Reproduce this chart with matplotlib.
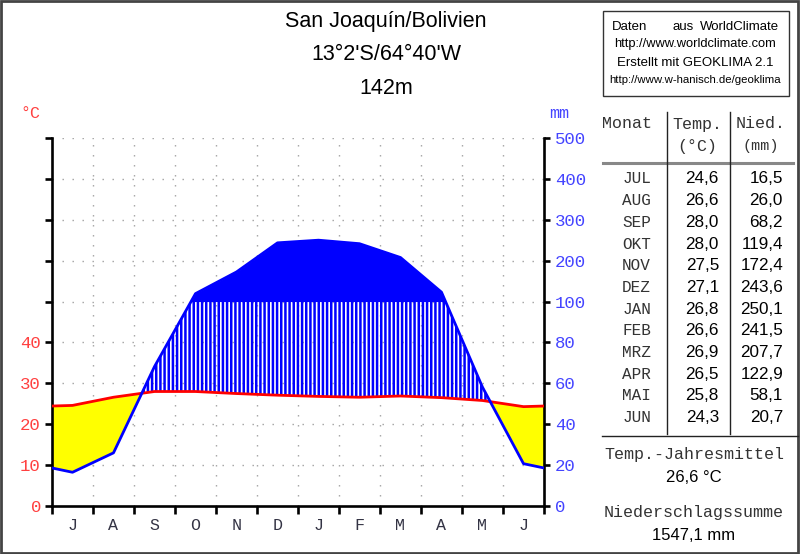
import numpy as np
import matplotlib
matplotlib.use('Agg')
import matplotlib.pyplot as plt
from matplotlib.patches import Rectangle
from matplotlib.lines import Line2D

# Klimadaten San Joaquín (Jul..Jun)
monate = ['JUL', 'AUG', 'SEP', 'OKT', 'NOV', 'DEZ', 'JAN', 'FEB', 'MRZ', 'APR', 'MAI', 'JUN']
monat_kurz = ['J', 'A', 'S', 'O', 'N', 'D', 'J', 'F', 'M', 'A', 'M', 'J']
temp = [24.6, 26.6, 28.0, 28.0, 27.5, 27.1, 26.8, 26.6, 26.9, 26.5, 25.8, 24.3]
nied = [16.5, 26.0, 68.2, 119.4, 172.4, 243.6, 250.1, 241.5, 207.7, 122.9, 58.1, 20.7]
mm_labels = ['0', '20', '40', '60', '80', '100', '200', '300', '400', '500']
t_labels = ['0', '10', '20', '30', '40', '', '', '', '', '']

MONO = 'Liberation Mono'
SANS = 'Liberation Sans'
ROT = '#ff4040'
BLAU = '#4444ff'

W, H = 800, 554
fig = plt.figure(figsize=(W / 100, H / 100), dpi=100)


def fx(x):
    return x / W


def fy(y):
    return 1 - y / H


def skala(p):
    p = np.asarray(p, dtype=float)
    return np.where(p <= 100, p / 2, 50 + (p - 100) / 10)


# Kurven bis an den Rand verlängern
t = np.array(temp)
p = skala(nied)
xe = np.concatenate([[0], np.arange(12) + 0.5, [12]])
te = np.concatenate([[(t[0] + t[-1]) / 2], t, [(t[0] + t[-1]) / 2]])
pe = np.concatenate([[(p[0] + p[-1]) / 2], p, [(p[0] + p[-1]) / 2]])
xf = np.linspace(0, 12, 2401)
tf = np.interp(xf, xe, te)
pf = np.interp(xf, xe, pe)

ax = fig.add_axes([fx(52), fy(506), (544 - 52) / W, (506 - 138) / H])
ax.set_xlim(0, 12)
ax.set_ylim(0, 90)

# Raster
for yy in range(10, 100, 10):
    ax.axhline(yy, color='#a0a0a0', lw=1, ls=(0, (1, 6.2)), zorder=0)
for xx in range(1, 12):
    ax.axvline(xx, color='#a0a0a0', lw=1, ls=(0, (1, 6.2)), zorder=0)

plt.rcParams['hatch.linewidth'] = 1.8
plt.rcParams['hatch.color'] = 'blue'
ax.fill_between(xf, pf, tf, where=tf > pf, color='yellow', lw=0, interpolate=True, zorder=1)
ax.fill_between(xf, tf, np.minimum(pf, 50), where=pf > tf, facecolor='none',
                edgecolor='blue', hatch='||||', lw=0, interpolate=True, zorder=1)
ax.fill_between(xf, 50, pf, where=pf > 50, color='blue', lw=0, interpolate=True, zorder=1)
ax.plot(xe, te, color='red', lw=2, zorder=3)
ax.plot(xe, pe, color='blue', lw=2, zorder=3)

for s in ['left', 'bottom', 'right']:
    ax.spines[s].set_linewidth(1.9)
ax.spines['top'].set_visible(False)

ax.set_yticks(range(0, 100, 10))
ax.set_yticklabels(t_labels, color=ROT, fontfamily=MONO, fontsize=12.5)
ax.tick_params(axis='y', direction='out', length=5, width=1.9, pad=3)

ax.set_xticks(range(13))
ax.set_xticklabels([])
ax.set_xticks(np.arange(12) + 0.5, minor=True)
ax.set_xticklabels(monat_kurz, minor=True, fontfamily=MONO, fontsize=12, color='#333344')
ax.tick_params(axis='x', which='major', direction='out', length=6, width=1.9)
ax.tick_params(axis='x', which='minor', length=0, pad=9)

ax2 = ax.twinx()
ax2.set_ylim(0, 90)
ax2.set_yticks(range(0, 100, 10))
ax2.set_yticklabels(mm_labels, color=BLAU, fontfamily=MONO, fontsize=12.5)
ax2.tick_params(axis='y', direction='out', length=4, width=1.9, pad=4)
for s in ax2.spines.values():
    s.set_visible(False)

fig.text(fx(30), fy(113), '°C', color=ROT, fontfamily=MONO, fontsize=12, ha='center', va='center')
fig.text(fx(559), fy(114), 'mm', color=BLAU, fontfamily=MONO, fontsize=12, ha='center', va='center')

# Titel
for i, zeile in enumerate(['San Joaquín/Bolivien', "13°2'S/64°40'W", '142m']):
    fig.text(fx(386), fy(22 + 33 * i), zeile, fontfamily=SANS, fontsize=15.5,
             ha='center', va='center')

# Quellen-Box
fig.patches.append(Rectangle((fx(603), fy(96)), (789 - 603) / W, (96 - 11) / H,
                             transform=fig.transFigure, fill=False, ec='#333333', lw=1))
fig.text(fx(612), fy(27), 'Daten', fontfamily=SANS, fontsize=9.5, va='center')
fig.text(fx(683), fy(27), 'aus', fontfamily=SANS, fontsize=9.5, va='center', ha='center')
fig.text(fx(779), fy(27), 'WorldClimate', fontfamily=SANS, fontsize=9.5, va='center', ha='right')
fig.text(fx(695), fy(44), 'http://www.worldclimate.com', fontfamily=SANS, fontsize=9.3,
         va='center', ha='center')
fig.text(fx(695), fy(63), 'Erstellt mit GEOKLIMA 2.1', fontfamily=SANS, fontsize=9.5,
         va='center', ha='center')
fig.text(fx(695), fy(80), 'http://www.w-hanisch.de/geoklima', fontfamily=SANS, fontsize=8.2,
         va='center', ha='center')

# Tabelle
fig.text(fx(627), fy(124), 'Monat', fontfamily=MONO, fontsize=12, ha='center', va='center', color='#333333')
fig.text(fx(697), fy(124), 'Temp.', fontfamily=MONO, fontsize=12, ha='center', va='center', color='#333333')
fig.text(fx(697), fy(146), '(°C)', fontfamily=MONO, fontsize=12, ha='center', va='center', color='#333333')
fig.text(fx(761), fy(124), 'Nied.', fontfamily=MONO, fontsize=12, ha='center', va='center', color='#333333')
fig.text(fx(761), fy(146), '(mm)', fontfamily=MONO, fontsize=11, ha='center', va='center', color='#333333')

fig.lines.append(Line2D([fx(603), fx(793)], [fy(163), fy(163)], transform=fig.transFigure,
                        color='#888888', lw=2.2))
for xv in [667, 730]:
    fig.lines.append(Line2D([fx(xv), fx(xv)], [fy(112), fy(434)], transform=fig.transFigure,
                            color='#222222', lw=1))
fig.lines.append(Line2D([fx(602), fx(798)], [fy(436), fy(436)], transform=fig.transFigure,
                        color='#222222', lw=1))

for i in range(12):
    yy = fy(179 + i * 21.7)
    fig.text(fx(651), yy, monate[i], fontfamily=MONO, fontsize=11.5, ha='right', va='center', color='#333333')
    fig.text(fx(719), yy, f'{temp[i]:.1f}'.replace('.', ','), fontfamily=SANS, fontsize=12.3,
             ha='right', va='center')
    fig.text(fx(783), yy, f'{nied[i]:.1f}'.replace('.', ','), fontfamily=SANS, fontsize=12.3,
             ha='right', va='center')

mittel = np.mean(temp)
summe = np.sum(nied)
fig.text(fx(694), fy(455), 'Temp.-Jahresmittel', fontfamily=MONO, fontsize=12, ha='center', va='center', color='#333333')
fig.text(fx(694), fy(477), f'{mittel:.1f} °C'.replace('.', ','), fontfamily=SANS, fontsize=12, ha='center', va='center')
fig.text(fx(694), fy(513), 'Niederschlagssumme', fontfamily=MONO, fontsize=12, ha='center', va='center', color='#333333')
fig.text(fx(694), fy(536), f'{summe:.1f} mm'.replace('.', ','), fontfamily=SANS, fontsize=12, ha='center', va='center')

# Rahmen
fig.patches.append(Rectangle((0.001, 0.002), 0.997, 0.996, transform=fig.transFigure,
                             fill=False, ec='#444444', lw=2))

fig.savefig('out.png', dpi=100)
